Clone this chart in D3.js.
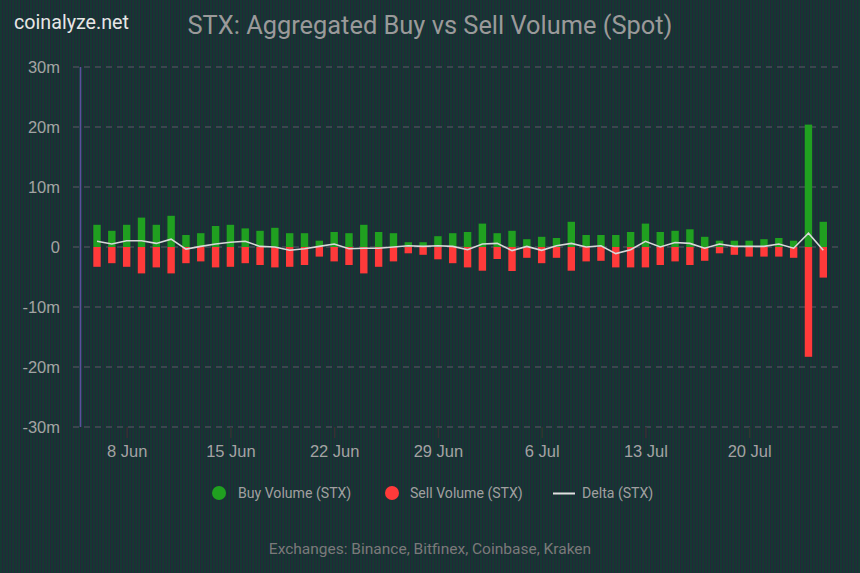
<!DOCTYPE html>
<html><head><meta charset="utf-8">
<script src="https://cdn.jsdelivr.net/npm/d3@7/dist/d3.min.js"></script>
<style>
html,body{margin:0;padding:0;background:#1b2f2f;}
svg{display:block;font-family:Roboto,"Noto Sans",sans-serif;}
</style></head><body>
<svg id="c" width="860" height="573"></svg>
<script>
const startDate = "2024-06-06";
const buyVolume = [3.7,2.7,3.7,4.9,3.7,5.2,2.0,2.3,3.5,3.7, 3.1,2.7,3.2,2.3,2.3,1.05,2.5,2.3,3.7,2.5, 2.3,0.8,0.8,1.8,2.3,2.5,3.9,2.3,2.7,1.3, 1.7,1.5,4.2,2.0,2.0,2.0,2.5,3.9,2.5,2.7, 2.95,1.7,1.05,1.05,1.05,1.3,1.5,1.05,20.4,4.2];
const sellVolume = [3.3,2.7,3.3,4.4,3.4,4.4,2.7,2.4,3.4,3.3, 2.7,3.0,3.4,3.3,3.0,1.6,2.4,3.0,4.4,3.3, 2.4,1.05,1.3,2.05,2.7,3.4,3.95,2.0,4.0,1.8, 2.7,1.8,3.95,2.4,2.3,3.4,3.4,3.4,3.0,2.4, 3.0,2.3,1.05,1.3,1.6,1.6,1.6,1.8,18.3,5.1];
const deltaVolume = [0.95,0.5,1.05,1.05,0.6,1.3,-0.35,0.1,0.5,0.8, 0.95,0.1,0,-0.55,-0.3,0.1,0.5,-0.3,-0.2,-0.2, 0,0.2,0.1,0.2,0.1,-0.45,0.5,0.6,-0.6,0.1, -0.55,0.2,0.6,0,0.2,-1.1,-0.45,0.95,0,0.75, 0.6,-0.2,0.5,0.1,0.1,0.1,0.5,-0.2,2.3,-0.55];
const yTicks = [-30,-20,-10,0,10,20,30];
const xTickLabels = ["8 Jun","15 Jun","22 Jun","29 Jun","6 Jul","13 Jul","20 Jul"];
const xTickDates = ["2024-06-08","2024-06-15","2024-06-22","2024-06-29","2024-07-06","2024-07-13","2024-07-20"];

const DAY = 86400000;
const t0 = new Date(startDate + "T00:00:00Z");
const dates = buyVolume.map((_, i) => new Date(t0.getTime() + i * DAY));
const rows = dates.map((d, i) => ({d, buy: buyVolume[i], sell: sellVolume[i], delta: deltaVolume[i]}));

const svg = d3.select("#c");
// striped background
const defs = svg.append("defs");
const pat = defs.append("pattern").attr("id","bg").attr("width",3).attr("height",10).attr("patternUnits","userSpaceOnUse");
pat.append("rect").attr("width",3).attr("height",10).attr("fill","#153832");
pat.append("rect").attr("x",2).attr("width",1).attr("height",10).attr("fill","#24263a");
svg.append("rect").attr("width",860).attr("height",573).attr("fill","url(#bg)");

const x = d3.scaleTime()
  .domain([new Date(t0.getTime() - DAY/2), new Date(dates[dates.length-1].getTime() + DAY/2)])
  .range([89.6, 830.7]);
const y = d3.scaleLinear().domain([-30, 30]).range([427, 67]);
const step = x(new Date(t0.getTime() + DAY)) - x(t0);
const bw = step * 0.5;

// gridlines
const grid = svg.append("g");
grid.selectAll("line").data(yTicks).join("line")
  .attr("x1", 73).attr("x2", 840)
  .attr("y1", d => y(d)).attr("y2", d => y(d))
  .attr("stroke", "#5a5a66").attr("stroke-width", 1.2)
  .attr("stroke-dasharray", "6,5");

// y axis
const yAxis = d3.axisLeft(y).tickValues(yTicks).tickSize(0).tickPadding(0)
  .tickFormat(d => d === 0 ? "0" : d + "m");
const ya = svg.append("g").attr("transform", "translate(60,0)").call(yAxis);
ya.select(".domain").remove();
ya.selectAll("text").attr("fill", "#a3a3a3").attr("font-size", 16.5).attr("dy", "0.35em");

svg.append("line").attr("x1", 80.5).attr("x2", 80.5).attr("y1", y(30)).attr("y2", y(-30))
  .attr("stroke", "#5c4f9e").attr("stroke-width", 1.6);

// x axis
const xAxis = d3.axisBottom(x)
  .tickValues(xTickDates.map(s => new Date(s + "T00:00:00Z")))
  .tickSize(11).tickPadding(7)
  .tickFormat((d, i) => xTickLabels[i]);
const xa = svg.append("g").attr("transform", `translate(0,${y(-30)})`).call(xAxis);
xa.select(".domain").remove();
xa.selectAll(".tick line").attr("stroke", "#333").attr("stroke-width", 1.5);
xa.selectAll("text").attr("fill", "#a3a3a3").attr("font-size", 16.5);

// bars
svg.append("g").selectAll("rect").data(rows).join("rect")
  .attr("x", d => x(d.d) - bw/2).attr("width", bw)
  .attr("y", d => y(d.buy)).attr("height", d => y(0) - y(d.buy))
  .attr("fill", "#20a020");
svg.append("g").selectAll("rect").data(rows).join("rect")
  .attr("x", d => x(d.d) - bw/2).attr("width", bw)
  .attr("y", y(0)).attr("height", d => y(-d.sell) - y(0))
  .attr("fill", "#ff3a3a");

// delta line
const line = d3.line().x(d => x(d.d)).y(d => y(d.delta));
svg.append("path").datum(rows).attr("d", line)
  .attr("fill", "none").attr("stroke", "#d8d8d8").attr("stroke-width", 1.6);

// title
svg.append("text").attr("x", 14).attr("y", 29).text("coinalyze.net")
  .attr("fill", "#e6e6e6").attr("font-size", 19.7);
svg.append("text").attr("x", 430).attr("y", 34).attr("text-anchor", "middle")
  .text("STX: Aggregated Buy vs Sell Volume (Spot)")
  .attr("fill", "#9a9a9a").attr("font-size", 25.4);

// legend
const lg = svg.append("g").attr("font-size", 14.1).attr("fill", "#a0a0a0");
lg.append("circle").attr("cx", 219).attr("cy", 493).attr("r", 7).attr("fill", "#20a020");
lg.append("text").attr("x", 238).attr("y", 498).text("Buy Volume (STX)");
lg.append("circle").attr("cx", 392).attr("cy", 493).attr("r", 7).attr("fill", "#ff3a3a");
lg.append("text").attr("x", 410).attr("y", 498).text("Sell Volume (STX)");
lg.append("line").attr("x1", 553).attr("x2", 575).attr("y1", 493.5).attr("y2", 493.5)
  .attr("stroke", "#e0e0e0").attr("stroke-width", 2);
lg.append("text").attr("x", 582).attr("y", 498).text("Delta (STX)");

svg.append("text").attr("x", 430).attr("y", 554).attr("text-anchor", "middle")
  .text("Exchanges: Binance, Bitfinex, Coinbase, Kraken")
  .attr("fill", "#7a7a7a").attr("font-size", 15.5);
</script>
</body></html>
